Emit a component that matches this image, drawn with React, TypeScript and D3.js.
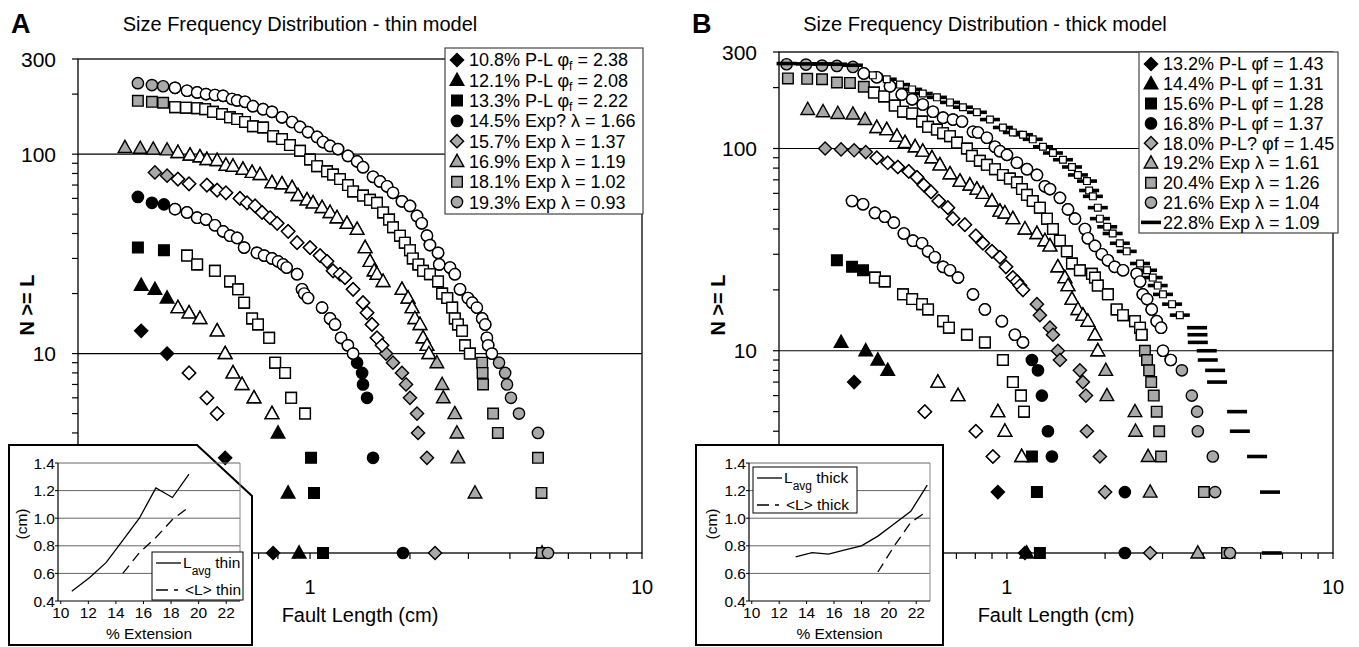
import React from 'react'
import * as d3 from 'd3'

type P = [number, number, number]

// each point: fault length (cm), N >= L, 1 = solid marker / 0 = open marker (fitted range)

// ---------- panel A : thin model ----------
const thin108: P[] = [[0.31, 13, 1], [0.371, 10, 1], [0.432, 8, 0], [0.489, 6, 0], [0.525, 5, 0], [0.555, 3, 1], [0.774, 1, 1]]
const thin121: P[] = [[0.31, 22, 1], [0.341, 21, 1], [0.371, 19, 1], [0.4, 17, 0], [0.432, 16, 0], [0.466, 15, 0], [0.525, 13, 0], [0.555, 10, 0], [0.586, 8, 0], [0.624, 7, 0], [0.678, 6, 0], [0.768, 5, 0], [0.801, 4, 1], [0.859, 2, 1], [0.927, 1, 1]]
const thin133: P[] = [[0.303, 34, 1], [0.363, 33, 1], [0.426, 31, 0], [0.457, 28, 0], [0.517, 26, 0], [0.574, 23, 0], [0.607, 21, 0], [0.633, 18, 0], [0.669, 15, 0], [0.697, 14, 0], [0.753, 12, 0], [0.785, 9, 0], [0.841, 8, 0], [0.877, 6, 0], [0.966, 5, 0], [1.007, 3, 1], [1.028, 2, 1], [1.094, 1, 1]]
const thin145: P[] = [[0.303, 61, 1], [0.334, 57, 1], [0.363, 56, 1], [0.392, 53, 0], [0.426, 51, 0], [0.457, 48, 0], [0.486, 47, 0], [0.517, 44, 0], [0.547, 41, 0], [0.574, 39, 0], [0.603, 38, 0], [0.633, 34, 0], [0.692, 32, 0], [0.727, 31, 0], [0.768, 30, 0], [0.801, 29, 0], [0.829, 28, 0], [0.85, 27, 0], [0.914, 25, 0], [0.946, 21, 0], [0.96, 20, 0], [0.986, 19, 0], [1.087, 17, 0], [1.149, 15, 0], [1.189, 14, 0], [1.24, 12, 0], [1.3, 11, 0], [1.348, 10, 0], [1.386, 9, 1], [1.435, 8, 1], [1.444, 7, 1], [1.485, 6, 1], [1.548, 3, 1], [1.906, 1, 1]]
const thin157: P[] = [[0.341, 81, 1], [0.371, 78, 1], [0.4, 75, 0], [0.432, 71, 0], [0.489, 70, 0], [0.525, 66, 0], [0.558, 64, 0], [0.615, 60, 0], [0.646, 57, 0], [0.683, 55, 0], [0.717, 51, 0], [0.758, 48, 0], [0.796, 45, 0], [0.859, 41, 0], [0.914, 36, 0], [1.0, 34, 0], [1.072, 31, 0], [1.125, 29, 0], [1.173, 26, 0], [1.231, 25, 0], [1.274, 24, 0], [1.348, 21, 0], [1.444, 18, 0], [1.485, 16, 0], [1.537, 14, 0], [1.591, 12, 0], [1.648, 11, 0], [1.694, 10, 1], [1.778, 9, 1], [1.892, 8, 1], [1.946, 7, 1], [2.0, 6, 1], [2.1, 5, 1], [2.115, 4, 1], [2.25, 3, 1], [2.38, 1, 1]]
const thin169: P[] = [[0.277, 108, 1], [0.308, 107, 1], [0.337, 106, 1], [0.371, 105, 1], [0.4, 102, 0], [0.435, 99, 0], [0.466, 97, 0], [0.489, 94, 0], [0.525, 93, 0], [0.558, 88, 0], [0.586, 87, 0], [0.628, 84, 0], [0.669, 81, 0], [0.707, 79, 0], [0.768, 72, 0], [0.823, 71, 0], [0.883, 68, 0], [0.92, 62, 0], [0.979, 59, 0], [1.021, 57, 0], [1.087, 54, 0], [1.149, 51, 0], [1.206, 48, 0], [1.292, 45, 0], [1.386, 42, 0], [1.465, 34, 0], [1.516, 29, 0], [1.56, 26, 0], [1.591, 25, 0], [1.66, 23, 0], [1.892, 21, 0], [1.973, 19, 0], [2.03, 17, 0], [2.07, 15, 0], [2.144, 14, 0], [2.19, 12, 0], [2.25, 11, 0], [2.28, 10, 0], [2.41, 9, 1], [2.5, 7, 1], [2.52, 6, 1], [2.73, 5, 1], [2.77, 4, 1], [2.79, 3, 1], [3.14, 2, 1], [5.0, 1, 1]]
const thin181: P[] = [[0.303, 185, 1], [0.334, 183, 1], [0.361, 181, 1], [0.392, 172, 0], [0.423, 171, 0], [0.457, 170, 0], [0.483, 168, 0], [0.51, 163, 0], [0.543, 159, 0], [0.574, 153, 0], [0.603, 150, 0], [0.637, 145, 0], [0.673, 138, 0], [0.722, 136, 0], [0.774, 123, 0], [0.823, 119, 0], [0.87, 111, 0], [0.933, 104, 0], [1.0, 94, 0], [1.05, 87, 0], [1.125, 82, 0], [1.173, 79, 0], [1.231, 75, 0], [1.301, 70, 0], [1.348, 65, 0], [1.444, 62, 0], [1.516, 59, 0], [1.591, 57, 0], [1.66, 51, 0], [1.73, 47, 0], [1.778, 43, 0], [1.866, 39, 0], [1.93, 36, 0], [2.0, 33, 0], [2.04, 30, 0], [2.12, 28, 0], [2.19, 26, 0], [2.297, 25, 0], [2.43, 23, 0], [2.5, 20, 0], [2.59, 19, 0], [2.68, 17, 0], [2.73, 15, 0], [2.79, 14, 0], [2.87, 13, 0], [2.93, 11, 0], [3.03, 10, 0], [3.3, 9, 1], [3.31, 8, 1], [3.32, 7, 1], [3.56, 5, 1], [3.68, 4, 1], [4.86, 3, 1], [4.98, 2, 1], [5.0, 1, 1]]
const thin193: P[] = [[0.303, 227, 1], [0.334, 222, 1], [0.361, 219, 1], [0.392, 215, 0], [0.426, 208, 0], [0.457, 204, 0], [0.486, 200, 0], [0.517, 198, 0], [0.547, 196, 0], [0.582, 189, 0], [0.603, 186, 0], [0.637, 183, 0], [0.673, 174, 0], [0.722, 168, 0], [0.768, 163, 0], [0.823, 153, 0], [0.883, 145, 0], [0.933, 137, 0], [0.986, 129, 0], [1.05, 122, 0], [1.094, 115, 0], [1.149, 110, 0], [1.214, 106, 0], [1.301, 98, 0], [1.386, 92, 0], [1.444, 86, 0], [1.548, 77, 0], [1.625, 73, 0], [1.706, 69, 0], [1.778, 64, 0], [1.892, 58, 0], [2.0, 55, 0], [2.1, 49, 0], [2.17, 45, 0], [2.25, 39, 0], [2.297, 35, 0], [2.43, 32, 0], [2.45, 28, 0], [2.64, 27, 0], [2.73, 25, 0], [2.83, 21, 0], [2.99, 19, 0], [3.08, 18, 0], [3.18, 17, 0], [3.3, 15, 0], [3.37, 14, 0], [3.41, 12, 0], [3.44, 11, 0], [3.53, 10, 0], [3.71, 9, 1], [3.87, 8, 1], [3.92, 7, 1], [4.03, 6, 1], [4.26, 5, 1], [4.86, 4, 1], [5.21, 1, 1]]

const thinLegendText = ['10.8% P-L', '12.1% P-L', '13.3% P-L', '14.5% Exp?', '15.7% Exp', '16.9% Exp', '18.1% Exp', '19.3% Exp']
const thinParam = ['phi', 'phi', 'phi', 'lambda', 'lambda', 'lambda', 'lambda', 'lambda']
const thinParamValue = ['2.38', '2.08', '2.22', '1.66', '1.37', '1.19', '1.02', '0.93']

// ---------- panel B : thick model ----------
const thick132: P[] = [[0.34, 7, 1], [0.56, 5, 0], [0.803, 4, 0], [0.906, 3, 0], [0.938, 2, 1], [1.136, 1, 1]]
const thick144: P[] = [[0.31, 11, 1], [0.369, 10, 1], [0.402, 9, 1], [0.431, 8, 1], [0.614, 7, 0], [0.708, 6, 0], [0.938, 5, 0], [0.986, 4, 0], [1.11, 3, 0], [1.15, 1, 1]]
const thick156: P[] = [[0.301, 28, 1], [0.335, 26, 1], [0.362, 25, 1], [0.394, 23, 0], [0.422, 22, 0], [0.48, 19, 0], [0.512, 18, 0], [0.549, 17, 0], [0.573, 16, 0], [0.637, 14, 0], [0.664, 13, 0], [0.754, 12, 0], [0.856, 11, 0], [0.972, 9, 0], [1.043, 7, 0], [1.104, 6, 0], [1.128, 5, 0], [1.193, 3, 1], [1.236, 2, 1], [1.262, 1, 1]]
const thick168: P[] = [[0.335, 55, 0], [0.362, 53, 0], [0.394, 48, 0], [0.422, 46, 0], [0.45, 43, 0], [0.483, 38, 0], [0.515, 35, 0], [0.549, 34, 0], [0.573, 31, 0], [0.601, 29, 0], [0.637, 26, 0], [0.669, 25, 0], [0.708, 23, 0], [0.787, 19, 0], [0.856, 16, 0], [0.965, 14, 0], [1.058, 12, 0], [1.12, 11, 0], [1.193, 9, 1], [1.245, 8, 1], [1.28, 6, 1], [1.336, 4, 1], [1.374, 3, 1], [2.3, 2, 1], [2.3, 1, 1]]
const thick180: P[] = [[0.277, 100, 1], [0.31, 99, 1], [0.34, 98, 1], [0.369, 96, 1], [0.399, 90, 0], [0.431, 85, 0], [0.463, 81, 0], [0.5, 77, 0], [0.53, 72, 0], [0.556, 66, 0], [0.585, 61, 0], [0.618, 55, 0], [0.659, 51, 0], [0.683, 45, 0], [0.743, 42, 0], [0.803, 37, 0], [0.844, 34, 0], [0.9, 31, 0], [0.952, 29, 0], [0.993, 26, 0], [1.043, 23, 0], [1.073, 22, 0], [1.096, 21, 0], [1.12, 20, 0], [1.236, 17, 1], [1.262, 15, 1], [1.355, 13, 1], [1.384, 12, 1], [1.433, 10, 1], [1.454, 9, 1], [1.674, 8, 1], [1.71, 7, 1], [1.747, 6, 1], [1.759, 4, 1], [1.928, 3, 1], [2.0, 2, 1], [2.75, 1, 1]]
const thick192: P[] = [[0.245, 156, 1], [0.273, 152, 1], [0.303, 149, 1], [0.337, 148, 1], [0.367, 139, 1], [0.399, 127, 0], [0.428, 124, 0], [0.46, 115, 0], [0.487, 107, 0], [0.523, 102, 0], [0.552, 97, 0], [0.589, 90, 0], [0.623, 83, 0], [0.669, 75, 0], [0.718, 69, 0], [0.77, 66, 0], [0.809, 63, 0], [0.844, 60, 0], [0.9, 55, 0], [0.952, 49, 0], [0.986, 48, 0], [1.043, 45, 0], [1.136, 40, 0], [1.236, 38, 0], [1.308, 35, 0], [1.355, 33, 0], [1.433, 26, 0], [1.506, 23, 0], [1.539, 21, 0], [1.583, 18, 0], [1.651, 16, 0], [1.71, 15, 0], [1.771, 14, 0], [1.862, 12, 0], [1.9, 10, 0], [2.01, 8, 1], [2.026, 6, 1], [2.47, 5, 1], [2.48, 4, 1], [2.71, 3, 1], [2.75, 2, 1], [3.85, 1, 1]]
const thick204: P[] = [[0.213, 222, 1], [0.244, 221, 1], [0.271, 220, 1], [0.301, 212, 1], [0.33, 211, 1], [0.364, 202, 1], [0.391, 189, 0], [0.42, 181, 0], [0.453, 163, 0], [0.48, 152, 0], [0.512, 149, 0], [0.549, 136, 0], [0.573, 128, 0], [0.61, 124, 0], [0.637, 119, 0], [0.669, 115, 0], [0.703, 107, 0], [0.754, 100, 0], [0.781, 92, 0], [0.826, 87, 0], [0.868, 83, 0], [0.919, 79, 0], [0.972, 74, 0], [1.021, 71, 0], [1.073, 68, 0], [1.112, 63, 0], [1.152, 59, 0], [1.2, 55, 0], [1.262, 51, 0], [1.327, 45, 0], [1.384, 40, 0], [1.454, 35, 0], [1.527, 31, 0], [1.583, 27, 0], [1.674, 25, 0], [1.823, 24, 0], [1.862, 23, 0], [1.9, 21, 0], [2.04, 19, 0], [2.17, 16, 0], [2.27, 15, 0], [2.47, 14, 0], [2.56, 13, 0], [2.59, 12, 0], [2.65, 10, 1], [2.69, 9, 1], [2.73, 8, 1], [2.77, 7, 1], [2.82, 6, 1], [2.88, 5, 1], [2.93, 4, 1], [2.97, 3, 1], [4.02, 2, 1], [4.73, 1, 1]]
const thick216: P[] = [[0.211, 261, 1], [0.242, 260, 1], [0.271, 257, 1], [0.301, 256, 1], [0.337, 253, 1], [0.364, 235, 0], [0.399, 225, 0], [0.438, 203, 0], [0.476, 185, 0], [0.512, 175, 0], [0.552, 165, 0], [0.593, 152, 0], [0.637, 142, 0], [0.683, 139, 0], [0.728, 136, 0], [0.787, 121, 0], [0.815, 120, 0], [0.868, 113, 0], [0.919, 102, 0], [0.952, 97, 0], [1.0, 93, 0], [1.073, 85, 0], [1.152, 79, 0], [1.236, 74, 0], [1.308, 65, 0], [1.355, 63, 0], [1.454, 57, 0], [1.539, 50, 0], [1.617, 45, 0], [1.735, 40, 0], [1.771, 36, 0], [1.862, 33, 0], [1.955, 30, 0], [2.04, 28, 0], [2.14, 26, 0], [2.27, 25, 0], [2.5, 24, 0], [2.56, 22, 0], [2.61, 19, 0], [2.69, 18, 0], [2.78, 16, 0], [2.88, 14, 0], [2.97, 13, 0], [3.01, 10, 0], [3.18, 9, 0], [3.44, 8, 1], [3.69, 6, 1], [3.83, 5, 1], [3.85, 4, 1], [4.28, 3, 1], [4.35, 2, 1], [4.83, 1, 1]]
const thick228: P[] = [[0.211, 263, 1], [0.242, 262, 1], [0.271, 262, 1], [0.301, 261, 1], [0.337, 258, 1], [0.388, 230, 0], [0.428, 220, 0], [0.47, 207, 0], [0.512, 196, 0], [0.552, 187, 0], [0.61, 179, 0], [0.669, 169, 0], [0.733, 160, 0], [0.809, 151, 0], [0.887, 139, 0], [0.972, 127, 0], [1.043, 120, 0], [1.12, 117, 0], [1.2, 111, 0], [1.29, 102, 0], [1.384, 95, 0], [1.485, 88, 0], [1.583, 81, 0], [1.651, 74, 0], [1.76, 69, 0], [1.787, 62, 0], [1.835, 58, 0], [1.9, 51, 0], [1.928, 45, 0], [2.03, 41, 0], [2.11, 38, 0], [2.22, 34, 0], [2.33, 31, 0], [2.56, 27, 0], [2.69, 25, 0], [2.8, 23, 0], [2.9, 21, 0], [3.01, 19, 0], [3.21, 17, 0], [3.39, 15, 0], [3.83, 13, 1], [3.84, 12, 1], [3.85, 11, 1], [4.1, 10, 1], [4.13, 9, 1], [4.35, 8, 1], [4.41, 7, 1], [5.08, 5, 1], [5.18, 4, 1], [5.85, 3, 1], [6.41, 2, 1], [6.49, 1, 1]]

const thickLegendText = ['13.2% P-L', '14.4% P-L', '15.6% P-L', '16.8% P-L', '18.0% P-L?', '19.2% Exp', '20.4% Exp', '21.6% Exp', '22.8% Exp']
const thickParam = ['phi', 'phi', 'phi', 'phi', 'phi', 'lambda', 'lambda', 'lambda', 'lambda']
const thickParamValue = ['1.43', '1.31', '1.28', '1.37', '1.45', '1.61', '1.26', '1.04', '1.09']

// ---------- insets : mean length vs % extension ----------
const extThin = [10.8, 12.1, 13.3, 14.5, 15.7, 16.9, 18.1, 19.3]
const lavgThin = [0.47, 0.57, 0.68, 0.84, 1.0, 1.22, 1.15, 1.32]
const meanExtThin = [14.5, 15.7, 16.9, 18.1, 19.3]
const meanThin = [0.6, 0.75, 0.86, 0.99, 1.08]
const extThick = [13.2, 14.4, 15.6, 16.8, 18.0, 19.2, 20.4, 21.6, 22.8]
const lavgThick = [0.72, 0.75, 0.74, 0.77, 0.8, 0.87, 0.96, 1.05, 1.24]
const meanExtThick = [19.2, 20.4, 21.6, 22.8]
const meanThick = [0.61, 0.8, 0.97, 1.05]
const insetYTicks = [0.4, 0.6, 0.8, 1.0, 1.2, 1.4]
const insetXTicks = [10, 12, 14, 16, 18, 20, 22]

const FONT = "'Liberation Sans', Arial, Helvetica, sans-serif"
const GRAY = '#a9a9a9'

const shapePath: Record<string, string> = {
  diamond: 'M0,-6.6L6.6,0L0,6.6L-6.6,0Z',
  triangle: 'M0,-7.2L6.8,5L-6.8,5Z',
  square: 'M-5.3,-5.3H5.3V5.3H-5.3Z',
  circle: d3.symbol(d3.symbolCircle, 100)() as string,
  dash: 'M-10,-1.8H10V1.8H-10Z',
  box: 'M-3.4,-3.4H3.4V3.4H-3.4Z',
}

function Marker({ shape, tone, open, x, y }: any) {
  const t = `translate(${x},${y})`
  if (shape === 'dash') {
    return open
      ? <path d={shapePath.box} transform={t} fill="#fff" stroke="#000" strokeWidth={1.2} />
      : <path d={shapePath.dash} transform={t} fill="#000" />
  }
  const fill = open ? '#fff' : tone === 'black' ? '#000' : GRAY
  return <path d={shapePath[shape]} transform={t} fill={fill} stroke="#000" strokeWidth={1.4} />
}

function Panel({ cfg }: any) {
  const { left, right, top } = cfg
  const x = d3.scaleLog().domain([0.2, 10]).range([left, right])
  const y = d3.scaleLog().domain([1, 300]).range([553, top])
  const yTicks = [2, 3, 4, 5, 6, 7, 8, 9, 10, 20, 30, 40, 50, 60, 70, 80, 90, 100, 200, 300]
  const xTicks = [0.3, 0.4, 0.5, 0.6, 0.7, 0.8, 0.9, 1, 2, 3, 4, 5, 6, 7, 8, 9, 10]
  const lb = cfg.legendBox

  return (
    <g fontFamily={FONT} fill="#000">
      <text x={cfg.letterX} y={33} fontSize={27} fontWeight="bold">{cfg.letter}</text>
      <text x={cfg.titleX} y={31} fontSize={20} textAnchor="middle">{cfg.title}</text>
      <text transform={`translate(${cfg.ylabX},305) rotate(-90)`} fontSize={20} fontWeight="bold" textAnchor="middle">N &gt;= L</text>
      <text x={(left + right) / 2} y={622} fontSize={20} textAnchor="middle">Fault Length (cm)</text>

      {[10, 100].map(v => (
        <line key={v} x1={left} x2={right} y1={y(v)} y2={y(v)} stroke="#000" strokeWidth={1.2} />
      ))}
      <rect x={left} y={y(300)} width={right - left} height={y(1) - y(300)} fill="none" stroke="#000" strokeWidth={1.3} />
      {yTicks.map(v => (
        <line key={v} x1={left - 6} x2={left} y1={y(v)} y2={y(v)} stroke="#000" strokeWidth={1.2} />
      ))}
      {xTicks.map(v => (
        <line key={v} x1={x(v)} x2={x(v)} y1={553} y2={559} stroke="#000" strokeWidth={1.2} />
      ))}
      {[300, 100, 10].map(v => (
        <text key={v} x={left - 22} y={y(v)} dy="0.36em" textAnchor="end" fontSize={21}>{v}</text>
      ))}
      {[1, 10].map(v => (
        <text key={v} x={x(v)} y={594} textAnchor="middle" fontSize={20}>{v}</text>
      ))}

      {cfg.series.map((s: P[], i: number) => (
        <g key={'f' + i}>
          {s.map((d, j) => (
            <Marker key={j} shape={cfg.shapes[i]} tone={cfg.tones[i]} open={false} x={x(d[0])} y={y(d[1])} />
          ))}
        </g>
      ))}
      {cfg.series.map((s: P[], i: number) => (
        <g key={'o' + i}>
          {s.filter(d => d[2] === 0).map((d, j) => (
            <Marker key={j} shape={cfg.shapes[i]} tone={cfg.tones[i]} open={true} x={x(d[0])} y={y(d[1])} />
          ))}
        </g>
      ))}

      <rect x={lb.x} y={lb.y} width={lb.w} height={lb.h} fill="#fff" stroke="#444" strokeWidth={1.2} />
      {cfg.legendText.map((t: string, i: number) => {
        const cy = lb.row0 + i * lb.dy
        return (
          <g key={t}>
            <Marker shape={cfg.shapes[i]} tone={cfg.tones[i]} open={false} x={lb.x + 12} y={cy} />
            <text x={lb.x + 24} y={cy} dy="0.36em" fontSize={18}>
              {t + ' '}
              {cfg.param[i] === 'phi'
                ? (cfg.phiSub
                  ? <>φ<tspan fontSize={12} dy={4}>f</tspan><tspan dy={-4}>{' = ' + cfg.paramValue[i]}</tspan></>
                  : 'φf = ' + cfg.paramValue[i])
                : 'λ = ' + cfg.paramValue[i]}
            </text>
          </g>
        )
      })}
    </g>
  )
}

function Inset({ cfg }: any) {
  const x = d3.scaleLinear().domain([9.8, 23]).range([cfg.left, cfg.right])
  const y = d3.scaleLinear().domain([0.4, 1.4]).range([601, 463])
  const line = d3.line<number>().x((d, i) => x(cfg.ext[i])).y(d => y(d))
  const lineMean = d3.line<number>().x((d, i) => x(cfg.meanExt[i])).y(d => y(d))
  const lg = cfg.legend
  return (
    <g fontFamily={FONT} fill="#000">
      <polygon points={cfg.frame} fill="#fff" stroke="#000" strokeWidth={2} />
      {insetYTicks.slice(1).map(v => (
        <line key={v} x1={cfg.left} x2={cfg.right} y1={y(v)} y2={y(v)} stroke="#666" strokeWidth={1} />
      ))}
      <line x1={cfg.right} x2={cfg.right} y1={y(1.4)} y2={y(0.4)} stroke="#888" strokeWidth={1} />
      <line x1={cfg.left} x2={cfg.left} y1={y(1.4)} y2={y(0.4)} stroke="#000" strokeWidth={1.2} />
      <line x1={cfg.left} x2={cfg.right} y1={y(0.4)} y2={y(0.4)} stroke="#000" strokeWidth={1.2} />
      {insetYTicks.map(v => (
        <g key={v}>
          <line x1={cfg.left - 3} x2={cfg.left} y1={y(v)} y2={y(v)} stroke="#000" />
          <text x={cfg.left - 3} y={y(v)} dy="0.36em" textAnchor="end" fontSize={15.5}>{v.toFixed(1)}</text>
        </g>
      ))}
      {insetXTicks.map(v => (
        <g key={v}>
          <line x1={x(v)} x2={x(v)} y1={601} y2={604} stroke="#000" />
          <text x={x(v)} y={618} textAnchor="middle" fontSize={15.5}>{v}</text>
        </g>
      ))}
      <text x={(cfg.left + cfg.right) / 2} y={639} textAnchor="middle" fontSize={15.5}>% Extension</text>
      <text transform={`translate(${cfg.ylabX},524) rotate(-90)`} textAnchor="middle" fontSize={15.5}>(cm)</text>

      <path d={line(cfg.lavg) as string} fill="none" stroke="#000" strokeWidth={1.3} />
      <path d={lineMean(cfg.mean) as string} fill="none" stroke="#000" strokeWidth={1.3} strokeDasharray="10,6" />

      <rect x={lg.x} y={lg.y} width={lg.w} height={lg.h} fill="#fff" stroke="#000" strokeWidth={1} />
      <line x1={lg.x + 4} x2={lg.x + 29} y1={lg.y + 11} y2={lg.y + 11} stroke="#000" strokeWidth={1.3} />
      <text x={lg.x + 31} y={lg.y + 16} fontSize={15.5}>L<tspan fontSize={12} dy={7}>avg</tspan><tspan dy={-7}>{' ' + cfg.name}</tspan></text>
      <line x1={lg.x + 4} x2={lg.x + 31} y1={lg.y + 38} y2={lg.y + 38} stroke="#000" strokeWidth={1.3} strokeDasharray="12,6,4,20" />
      <text x={lg.x + 33} y={lg.y + 43} fontSize={15.5}>{'<L> ' + cfg.name}</text>
    </g>
  )
}

const panelA = {
  letter: 'A', letterX: 11, title: 'Size Frequency Distribution - thin model', titleX: 300,
  left: 78, right: 642, top: 59, ylabX: 34,
  series: [thin108, thin121, thin133, thin145, thin157, thin169, thin181, thin193],
  shapes: ['diamond', 'triangle', 'square', 'circle', 'diamond', 'triangle', 'square', 'circle'],
  tones: ['black', 'black', 'black', 'black', 'gray', 'gray', 'gray', 'gray'],
  legendText: thinLegendText, param: thinParam, paramValue: thinParamValue, phiSub: true,
  legendBox: { x: 445, y: 48, w: 198, h: 166, row0: 60, dy: 20.3 },
}

const panelB = {
  letter: 'B', letterX: 692, title: 'Size Frequency Distribution - thick model', titleX: 985,
  left: 779, right: 1333, top: 52, ylabX: 725,
  series: [thick132, thick144, thick156, thick168, thick180, thick192, thick204, thick216, thick228],
  shapes: ['diamond', 'triangle', 'square', 'circle', 'diamond', 'triangle', 'square', 'circle', 'dash'],
  tones: ['black', 'black', 'black', 'black', 'gray', 'gray', 'gray', 'gray', 'black'],
  legendText: thickLegendText, param: thickParam, paramValue: thickParamValue, phiSub: false,
  legendBox: { x: 1139, y: 52, w: 199, h: 181, row0: 64, dy: 19.8 },
}

const insetA = {
  frame: '9,445 197,445 252,496 252,645 9,645', left: 58, right: 240, ylabX: 27,
  ext: extThin, lavg: lavgThin, meanExt: meanExtThin, mean: meanThin, name: 'thin',
  legend: { x: 152, y: 552, w: 91, h: 48 },
}

const insetB = {
  frame: '696,445 943,445 943,645 696,645', left: 749, right: 930, ylabX: 717,
  ext: extThick, lavg: lavgThick, meanExt: meanExtThick, mean: meanThick, name: 'thick',
  legend: { x: 753, y: 467, w: 104, h: 46 },
}

export default function App() {
  return (
    <svg width={1359} height={647} style={{ position: 'absolute', left: 0, top: 0, background: '#fff' }}>
      <rect width={1359} height={647} fill="#fff" />
      <Panel cfg={panelA} />
      <Panel cfg={panelB} />
      <Inset cfg={insetA} />
      <Inset cfg={insetB} />
    </svg>
  )
}
